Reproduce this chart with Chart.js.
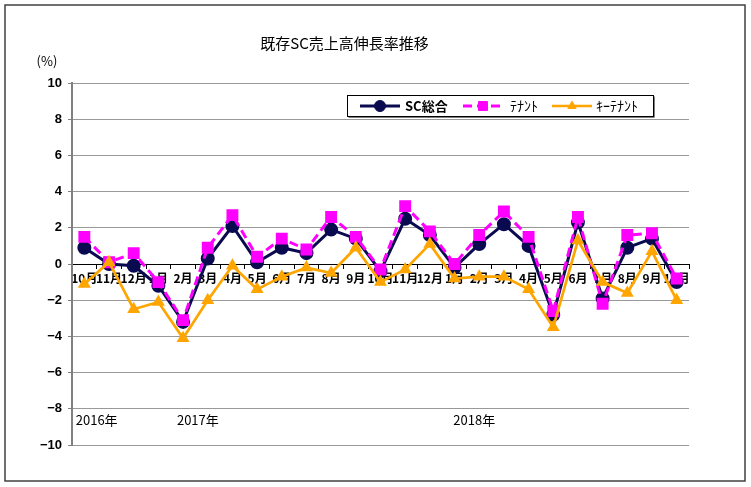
<!DOCTYPE html>
<html>
<head>
<meta charset="utf-8">
<script src="https://cdn.jsdelivr.net/npm/chart.js@4.4.1/dist/chart.umd.min.js"></script>
<style>
  html, body { margin: 0; padding: 0; background: #fff; }
</style>
</head>
<body>
<canvas id="chartArea" width="751" height="487"></canvas>
<script>
// months from 2016/10 to 2018/10
const months = [
    '10月', '11月', '12月',
    '1月', '2月', '3月', '4月', '5月', '6月', '7月', '8月', '9月', '10月', '11月', '12月',
    '1月', '2月', '3月', '4月', '5月', '6月', '7月', '8月', '9月', '10月'
];
const scTotal   = [0.9, 0.0, -0.1, -1.2, -3.2, 0.3, 2.1, 0.1, 0.9, 0.6, 1.9, 1.4, -0.4, 2.5, 1.6, -0.2, 1.1, 2.2, 1.0, -2.8, 2.3, -1.9, 0.9, 1.4, -1.0];
const tenant    = [1.5, 0.1, 0.6, -1.0, -3.1, 0.9, 2.7, 0.4, 1.4, 0.8, 2.6, 1.5, -0.3, 3.2, 1.8, 0.0, 1.6, 2.9, 1.5, -2.6, 2.6, -2.2, 1.6, 1.7, -0.8];
const keyTenant = [-1.1, 0.1, -2.5, -2.1, -4.1, -2.0, -0.1, -1.4, -0.7, -0.2, -0.5, 0.9, -1.0, -0.3, 1.1, -0.8, -0.7, -0.7, -1.4, -3.5, 1.3, -1.0, -1.6, 0.7, -2.0];
const seriesNames = ['SC総合', 'ﾃﾅﾝﾄ', 'ｷｰﾃﾅﾝﾄ'];
const yearLabels = ['2016年', '2017年', '2018年'];
const chartTitle = '既存SC売上高伸長率推移';
const unitLabel = '(%)';

const jpFont = '"Noto Sans CJK JP", "Noto Sans", sans-serif';
const numFont = '"Liberation Sans", Arial, sans-serif';

const extras = {
    id: 'extras',
    beforeDraw(chart) {
        const ctx = chart.ctx;
        ctx.save();
        ctx.fillStyle = '#fff';
        ctx.fillRect(0, 0, chart.width, chart.height);
        ctx.strokeStyle = '#404040';
        ctx.lineWidth = 1.5;
        ctx.strokeRect(5, 5, 740, 476);
        ctx.restore();
    },
    afterDraw(chart) {
        const ctx = chart.ctx;
        const x = chart.scales.x;
        const y = chart.scales.y;
        ctx.save();

        // unit label
        ctx.fillStyle = '#000';
        ctx.font = '13px ' + jpFont;
        ctx.textAlign = 'center';
        ctx.textBaseline = 'middle';
        ctx.fillText(unitLabel, 47, 61);

        // year labels under the plot
        const yearAt = [0.5, 4.6, 15.8];
        ctx.font = '13px ' + jpFont;
        yearLabels.forEach((t, i) => {
            ctx.fillText(t, x.getPixelForValue(yearAt[i]), y.getPixelForValue(-8.6));
        });

        // legend box
        const bx = 347, by = 95, bw = 306, bh = 21;
        ctx.fillStyle = '#000';
        ctx.fillRect(bx + 1.5, by + 1.5, bw, bh);
        ctx.fillStyle = '#fff';
        ctx.fillRect(bx, by, bw, bh);
        ctx.strokeStyle = '#000';
        ctx.lineWidth = 1;
        ctx.strokeRect(bx + 0.5, by + 0.5, bw, bh);

        const lineStart = [360, 463, 552];
        const textStart = [405, 510, 596];
        const cy = by + bh / 2 + 0.5;
        chart.data.datasets.forEach((ds, i) => {
            ctx.strokeStyle = ds.borderColor;
            ctx.lineWidth = ds.borderWidth;
            ctx.setLineDash(ds.borderDash || []);
            ctx.beginPath();
            ctx.moveTo(lineStart[i], cy);
            ctx.lineTo(lineStart[i] + 40, cy);
            ctx.stroke();
            ctx.setLineDash([]);
            ctx.fillStyle = ds.pointBackgroundColor;
            ctx.strokeStyle = ds.pointBorderColor;
            ctx.lineWidth = 1;
            Chart.helpers.drawPoint(ctx, {
                pointStyle: ds.pointStyle,
                radius: ds.pointRadius,
                rotation: 0,
                borderWidth: 1
            }, lineStart[i] + 20, cy);
            ctx.fillStyle = '#000';
            ctx.textAlign = 'left';
            ctx.font = i === 0 ? 'bold 13px ' + jpFont : '14px ' + jpFont;
            ctx.fillText(seriesNames[i], textStart[i], cy);
        });
        ctx.restore();
    }
};

new Chart(document.getElementById('chartArea').getContext('2d'), {
    type: 'line',
    data: {
        labels: months,
        datasets: [
            {
                label: seriesNames[0],
                data: scTotal,
                borderColor: '#0a0a50',
                borderWidth: 3,
                pointStyle: 'circle',
                pointRadius: 5.5,
                pointBackgroundColor: '#0a0a50',
                pointBorderColor: '#0a0a50',
                tension: 0,
                order: 3
            },
            {
                label: seriesNames[1],
                data: tenant,
                borderColor: '#ff00ff',
                borderWidth: 3,
                borderDash: [9, 5],
                pointStyle: 'rect',
                pointRadius: 6.3,
                pointBackgroundColor: '#ff00ff',
                pointBorderColor: '#ff00ff',
                tension: 0,
                order: 2
            },
            {
                label: seriesNames[2],
                data: keyTenant,
                borderColor: '#ffa500',
                borderWidth: 2.7,
                pointStyle: 'triangle',
                pointRadius: 4.8,
                pointBackgroundColor: '#ffa500',
                pointBorderColor: '#ffa500',
                tension: 0,
                order: 1
            }
        ]
    },
    options: {
        responsive: false,
        animation: false,
        devicePixelRatio: 1,
        layout: { padding: { left: 0, right: 62, top: 0, bottom: 42 } },
        plugins: {
            legend: { display: false },
            tooltip: { enabled: false },
            title: {
                display: true,
                text: chartTitle,
                color: '#000',
                font: { family: jpFont, size: 15, weight: 'normal' },
                padding: { top: 34, bottom: 31 }
            }
        },
        scales: {
            x: {
                position: { y: 0 },
                offset: true,
                afterFit(scale) { scale.height = 0; },
                grid: {
                    drawOnChartArea: false,
                    drawTicks: true,
                    tickLength: 4,
                    offset: true,
                    tickColor: '#000'
                },
                border: { color: '#000', width: 1 },
                ticks: {
                    autoSkip: false,
                    maxRotation: 0,
                    minRotation: 0,
                    padding: 3,
                    color: '#000',
                    font: { family: jpFont, size: 12, weight: 'bold' }
                }
            },
            y: {
                min: -10,
                max: 10,
                afterFit(scale) { scale.width = 72; },
                grid: {
                    color: c => c.tick && c.tick.value === 0 ? 'rgba(0,0,0,0)' : '#999',
                    borderDash: [2, 2],
                    tickLength: 4,
                    tickColor: '#808080',
                    tickBorderDash: []
                },
                border: { color: '#808080', width: 2 },
                ticks: {
                    stepSize: 2,
                    padding: 6,
                    color: '#000',
                    font: { family: numFont, size: 13, weight: 'bold' },
                    callback: v => String(v).replace('-', '−')
                }
            }
        }
    },
    plugins: [extras]
});
</script>
</body>
</html>
